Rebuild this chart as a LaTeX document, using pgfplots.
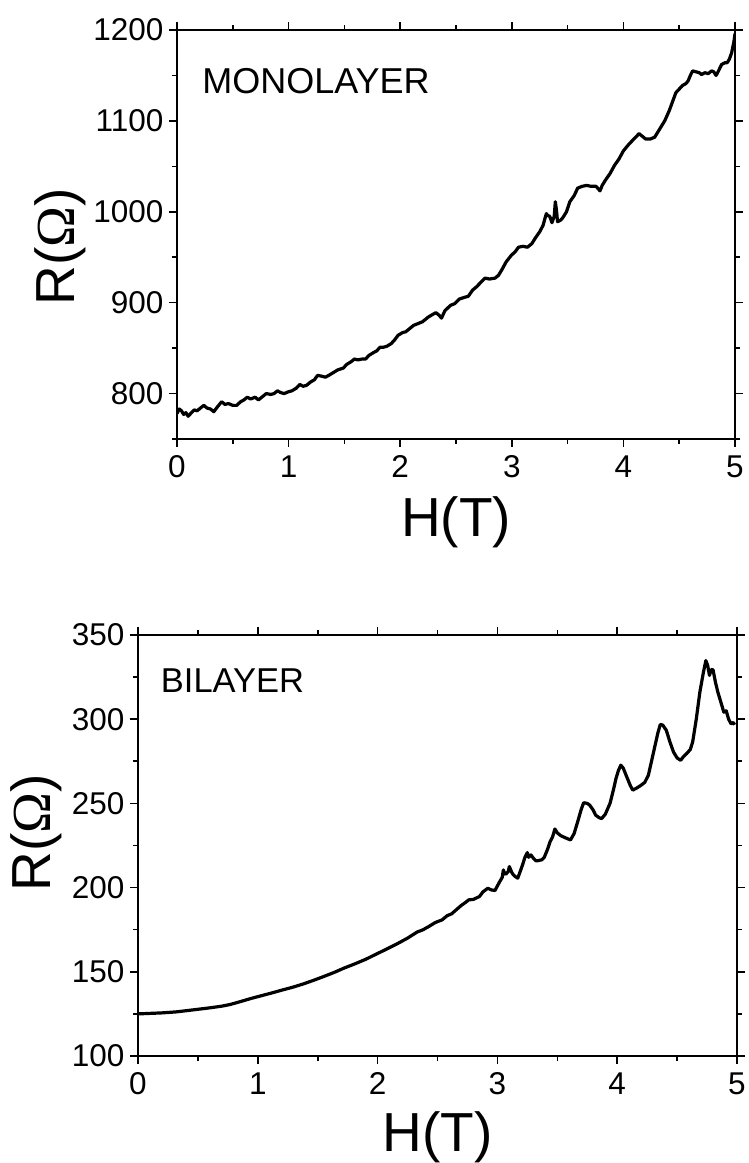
\documentclass[border=0pt]{standalone}
\usepackage{fontspec}
\setmainfont{Liberation Sans}
\newfontfamily\seriffont{Liberation Serif}
\usepackage{pgfplots}
\pgfplotsset{compat=1.18}

\pgfplotstableread{
H R
0.00 778
0.02 783
0.04 781
0.06 777
0.08 779
0.10 775
0.13 779
0.155 782
0.18 781
0.21 784
0.24 787
0.27 784
0.30 783
0.33 780
0.36 785
0.40 791
0.43 788
0.46 789
0.50 787
0.535 787
0.57 791
0.60 793
0.63 796
0.66 794
0.70 796
0.73 793
0.77 797
0.80 800
0.84 799
0.87 800
0.90 803
0.93 801
0.96 800
1.00 802
1.03 803
1.07 806
1.10 810
1.13 808
1.16 809
1.20 813
1.23 815
1.26 820
1.30 819
1.33 818
1.36 820
1.40 823
1.44 826
1.49 828
1.52 832
1.56 835
1.59 838
1.62 837
1.66 838
1.69 838
1.72 842
1.76 845
1.79 847
1.82 851
1.85 851
1.88 852
1.92 855
1.95 859
1.98 864
2.02 867
2.05 868
2.09 872
2.12 875
2.16 877
2.20 879
2.25 884
2.29 887
2.32 889
2.35 886
2.37 883
2.40 891
2.45 897
2.49 899
2.53 904
2.58 906
2.61 907
2.65 914
2.68 917
2.72 922
2.76 927
2.80 926
2.85 927
2.88 930
2.91 936
2.95 945
2.995 952
3.03 956
3.06 961
3.10 962
3.14 961
3.18 965
3.21 971
3.25 978
3.28 985
3.30 994
3.31 998
3.32 996
3.34 995
3.36 988
3.38 995
3.39 1011
3.40 1002
3.41 989
3.44 991
3.46 994
3.49 1000
3.52 1011
3.56 1018
3.59 1026
3.63 1028
3.67 1029
3.71 1028
3.755 1028
3.79 1023
3.81 1029
3.84 1035
3.88 1042
3.92 1051
3.96 1058
4.00 1067
4.04 1073
4.07 1077
4.11 1082
4.14 1086
4.17 1083
4.20 1080
4.24 1080
4.28 1082
4.31 1088
4.34 1094
4.37 1100
4.41 1111
4.44 1121
4.47 1131
4.50 1135
4.53 1139
4.56 1141
4.58 1144
4.60 1150
4.62 1155
4.65 1154
4.68 1153
4.70 1151
4.73 1153
4.76 1152
4.79 1155
4.81 1154
4.83 1150
4.84 1152
4.86 1157
4.88 1162
4.91 1164
4.93 1164
4.95 1168
4.97 1175
4.99 1187
5.00 1196
}\mono

\pgfplotstableread{
H R
0.00 125.0
0.10 125.3
0.20 125.6
0.32 126.2
0.45 127.3
0.60 128.6
0.70 129.6
0.77 130.6
0.85 132.2
0.94 134.1
1.03 135.8
1.12 137.5
1.20 139.1
1.29 140.8
1.38 142.8
1.46 144.8
1.55 147.2
1.64 149.7
1.72 152.2
1.81 154.7
1.90 157.4
1.98 160.2
2.07 163.3
2.16 166.5
2.25 170.0
2.33 173.6
2.38 175.0
2.43 177.0
2.48 179.2
2.54 180.9
2.58 183.3
2.62 184.5
2.64 185.8
2.70 189.5
2.74 191.5
2.76 192.7
2.80 193.0
2.85 194.7
2.88 197.5
2.92 199.6
2.95 198.6
2.98 198.3
3.00 201.0
3.02 203.6
3.04 206.0
3.05 210.5
3.06 208.5
3.07 207.9
3.09 209.5
3.10 212.5
3.12 209.0
3.13 207.9
3.15 206.5
3.17 205.6
3.19 209.5
3.21 213.5
3.23 218.0
3.25 220.8
3.26 218.0
3.28 219.4
3.30 217.5
3.32 216.0
3.34 216.0
3.37 216.5
3.39 217.8
3.42 223.0
3.44 227.3
3.46 230.0
3.48 234.8
3.50 232.5
3.53 230.8
3.57 229.5
3.61 228.3
3.64 232.0
3.67 239.1
3.70 246.5
3.72 250.4
3.75 250.0
3.77 249.0
3.80 246.0
3.82 243.0
3.85 241.5
3.87 241.0
3.90 243.5
3.94 250.0
3.97 258.5
3.99 264.8
4.01 269.5
4.03 272.7
4.05 271.0
4.08 265.7
4.11 260.5
4.13 257.9
4.16 259.0
4.20 260.8
4.23 262.5
4.26 266.7
4.28 273.0
4.31 282.5
4.34 292.0
4.36 296.9
4.38 296.5
4.41 293.4
4.44 286.5
4.47 280.5
4.50 277.0
4.53 275.6
4.55 277.5
4.58 279.6
4.61 282.0
4.63 286.5
4.66 300.0
4.69 316.1
4.72 328.0
4.74 334.8
4.755 332.0
4.77 326.0
4.785 329.5
4.80 329.3
4.82 322.0
4.84 316.1
4.87 309.0
4.89 304.2
4.91 305.0
4.93 300.0
4.95 297.3
4.97 298.0
4.98 296.7
}\bilayer

\begin{document}
\begin{tikzpicture}
\useasboundingbox (0,0) rectangle (749bp,1163bp);
\pgfplotsset{
 myaxis/.style={
   scale only axis,
   xmin=0,xmax=5,
   xtick={0,1,2,3,4,5},
   minor xtick={0.5,1.5,2.5,3.5,4.5},
   tick align=outside,
   major tick length=8bp,
   minor tick length=5bp,
   tick style={black, line width=1.6bp},
   axis line style={line width=2bp},
   ticklabel style={font=\fontsize{31.5bp}{36bp}\selectfont},
   xticklabel style={yshift=-5bp},
   yticklabel style={xshift=-2bp},
   /pgf/number format/assume math mode=true,
   /pgf/number format/1000 sep={},
   label style={font=\fontsize{55bp}{62bp}\selectfont},
   xlabel={H(T)},
   ylabel={R({\seriffont Ω})},
 }
}
\begin{axis}[myaxis, at={(177bp,724bp)}, anchor=south west, width=558bp, height=409bp,
  ymin=750, ymax=1200, ytick={800,900,...,1200}, minor ytick={750,850,...,1150},
  xlabel style={at={(axis description cs:0.5,-0.203)},anchor=center},
  ylabel style={at={(axis description cs:-0.21,0.47)},anchor=center}]
\addplot[black, line width=3.2bp, line join=round] table[x=H,y=R] {\mono};
\node[anchor=base west, inner sep=0pt, font=\fontsize{36bp}{42bp}\selectfont] at (rel axis cs:0.045,0.8435) {MONOLAYER};
\end{axis}
\begin{axis}[myaxis, at={(138bp,107bp)}, anchor=south west, width=599bp, height=421bp,
  ymin=100, ymax=350, ytick={100,150,...,350}, minor ytick={125,175,...,325},
  xlabel style={at={(axis description cs:0.5,-0.192)},anchor=center},
  ylabel style={at={(axis description cs:-0.169,0.53)},anchor=center}]
\addplot[black, line width=3.2bp, line join=round] table[x=H,y=R] {\bilayer};
\node[anchor=base west, inner sep=0pt, font=\fontsize{34.5bp}{40bp}\selectfont] at (rel axis cs:0.038,0.8646) {BILAYER};
\end{axis}
\end{tikzpicture}
\end{document}
